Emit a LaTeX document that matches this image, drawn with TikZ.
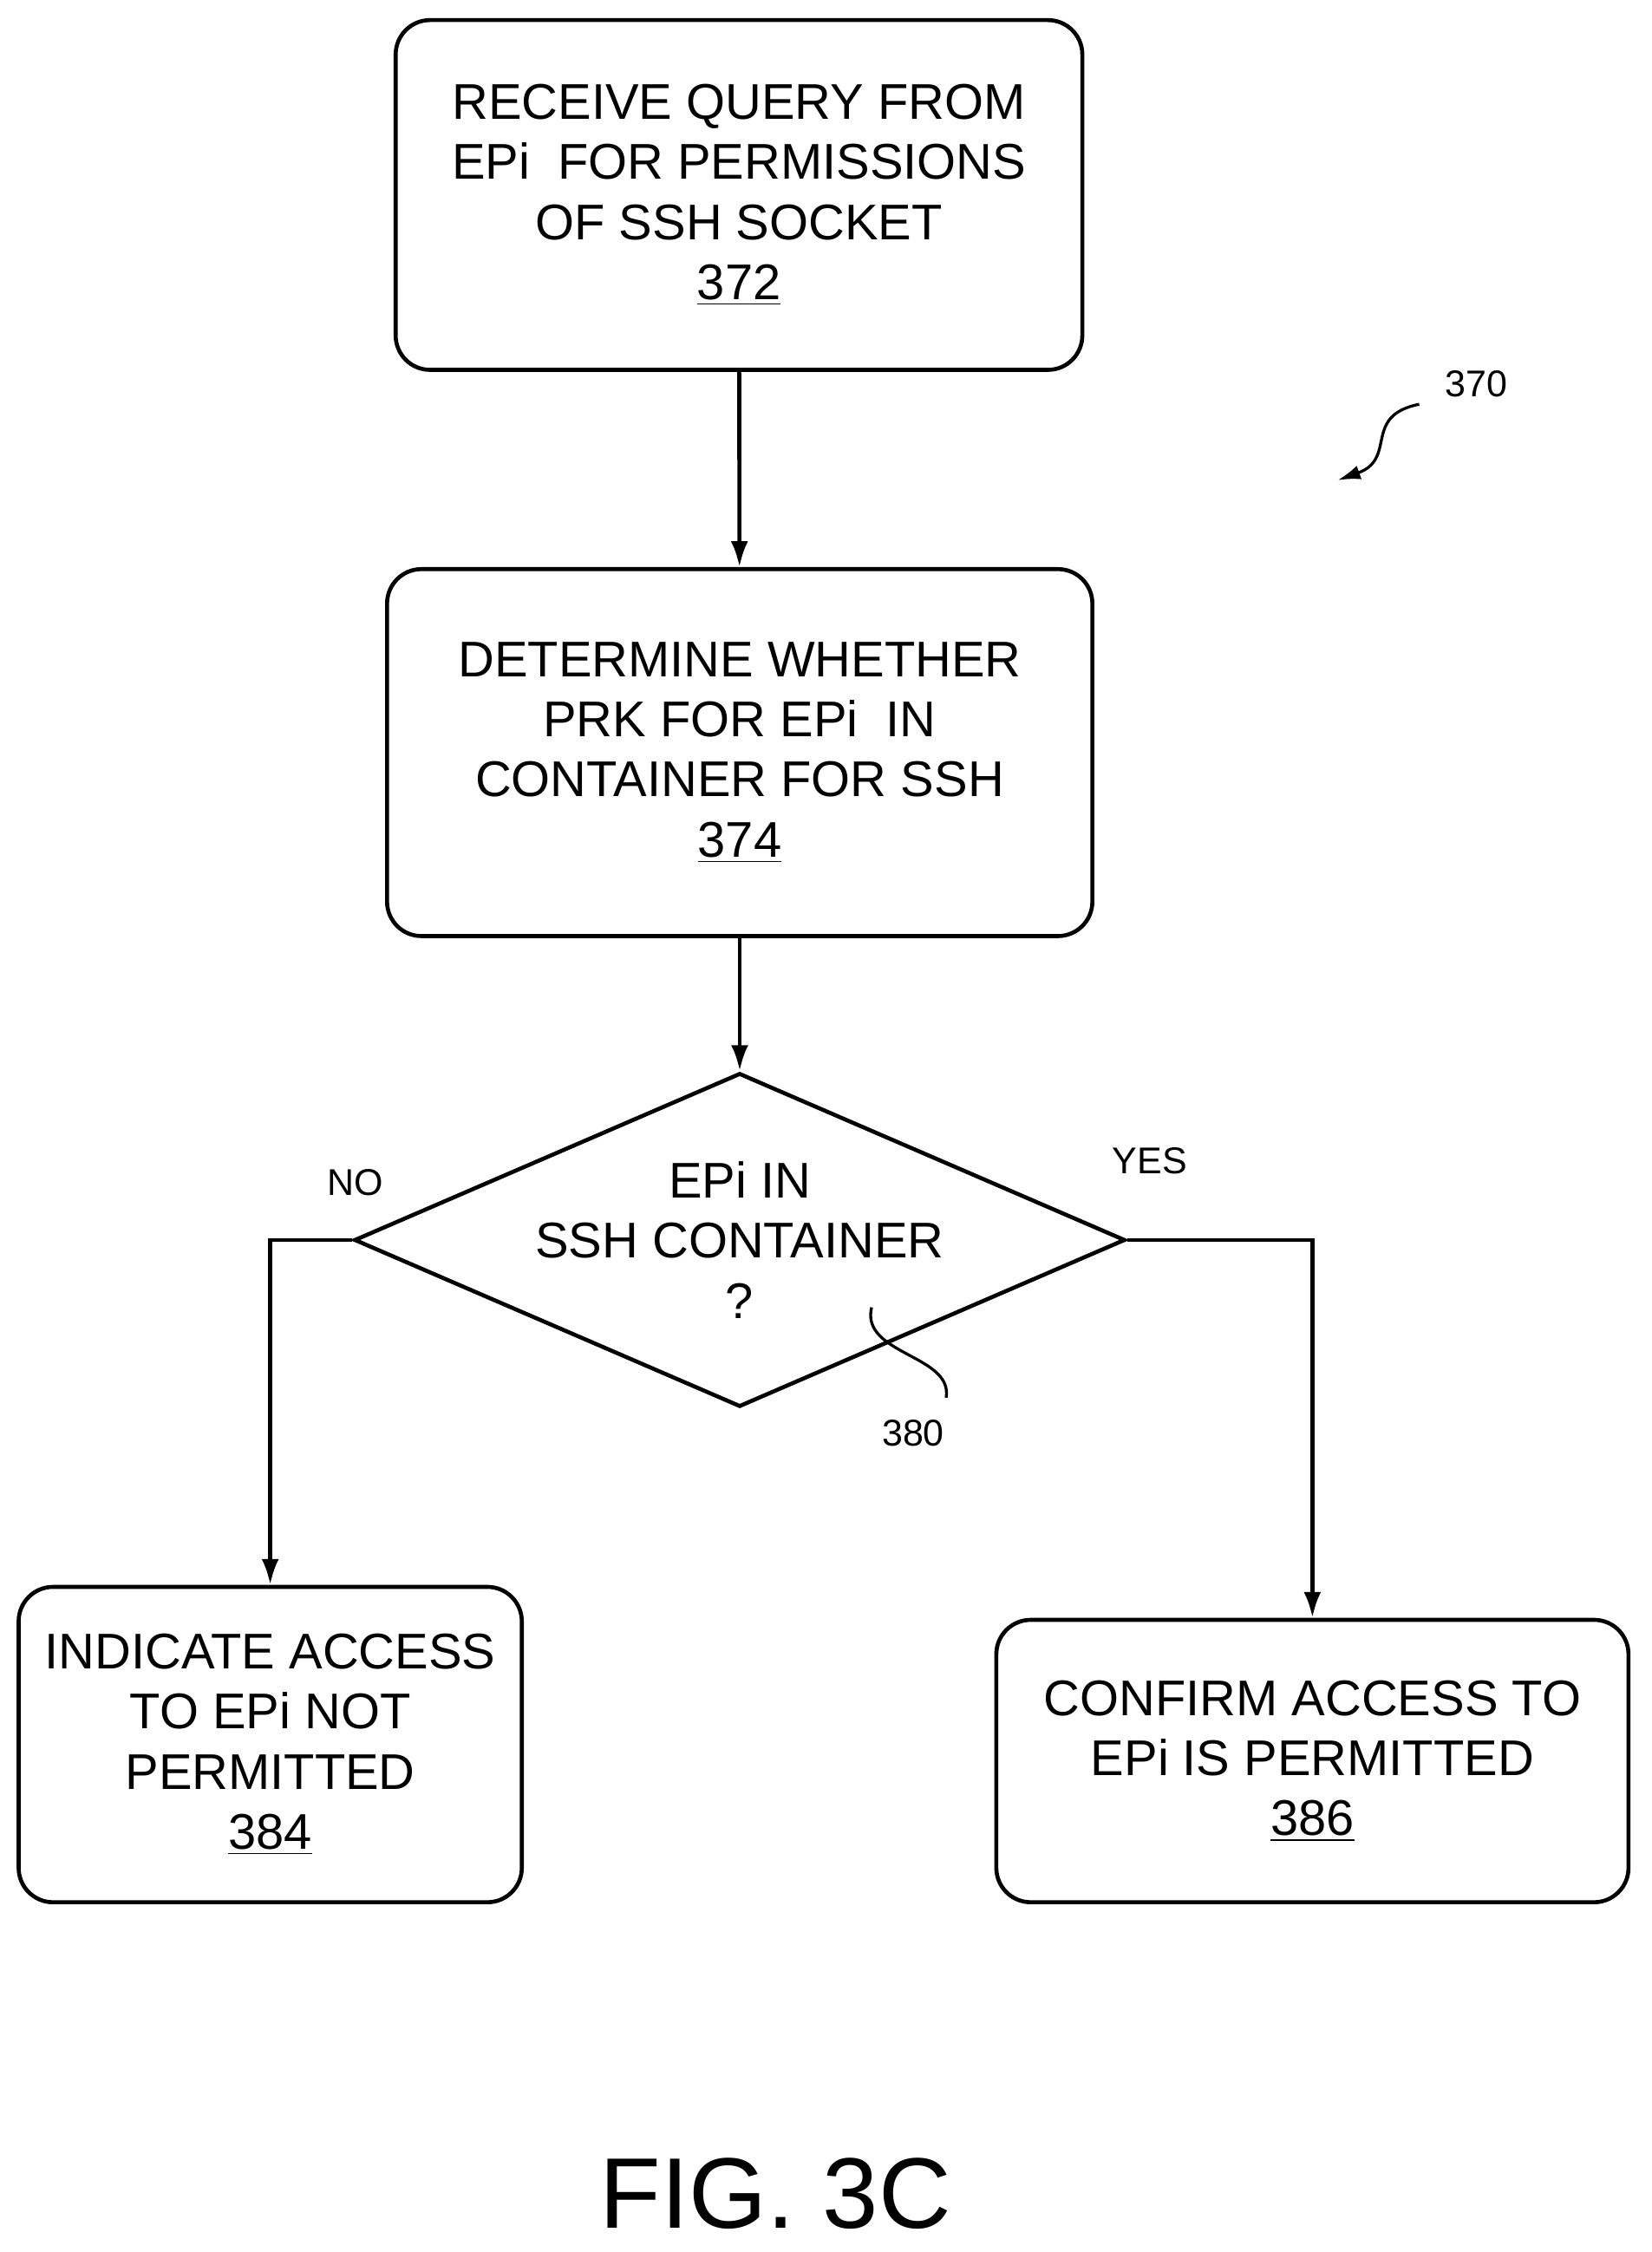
\documentclass[tikz,border=0pt]{standalone}
\usepackage{fontspec}
\setmainfont{Liberation Sans}
\usetikzlibrary{shapes.geometric,positioning}
\begin{document}
\begin{tikzpicture}[x=0.5pt,y=-0.5pt,
  box/.style={draw,line width=1.4pt,rounded corners=12pt,align=center,
    font=\fontsize{17.5}{21}\selectfont,inner sep=0pt},
  dec/.style={draw,diamond,line width=1.4pt,aspect=2.31,align=center,
    font=\fontsize{17.5}{21}\selectfont,inner sep=0pt},
  lbl/.style={font=\fontsize{13}{15}\selectfont},
  flow/.style={line width=1.4pt,-{Latex[length=9pt,width=6pt]}}]
  \usetikzlibrary{arrows.meta}
  \useasboundingbox (0,0) rectangle (1152,1571);

  % boxes
  \node[box,minimum width=239.5pt,minimum height=122pt] (query) at (515.5,136) {RECEIVE QUERY FROM\\EPi\ \ FOR PERMISSIONS\\OF SSH SOCKET\\\underline{372}};
  \node[box,minimum width=246pt,minimum height=128pt] (prk) at (516,525) {DETERMINE WHETHER\\PRK FOR EPi\ \ IN\\CONTAINER FOR SSH\\\underline{374}};
  \node[dec,minimum width=201pt,minimum height=87pt] (inssh) at (516,865) {EPi IN\\SSH CONTAINER\\?};
  \node[box,minimum width=175.5pt,minimum height=110pt] (deny) at (188.5,1217) {INDICATE ACCESS\\TO EPi NOT\\PERMITTED\\\underline{384}};
  \node[box,minimum width=220.5pt,minimum height=98.5pt] (allow) at (915.5,1228.5) {CONFIRM ACCESS TO\\EPi IS PERMITTED\\\underline{386}};

  % connectors
  \draw[flow] (query) -- (prk);
  \draw[flow] (prk) -- (inssh);
  \draw[flow] (inssh.west) -| (deny.north);
  \draw[flow] (inssh.east) -| (allow.north);

  \node[lbl] (no) at (248,825) {NO};
  \node[lbl] (yes) at (802,810) {YES};

  % reference numerals
  \node[lbl] (n370) at (1030,268) {370};
  \coordinate (t370) at (933,335);
  \draw[line width=1pt,-{Latex[length=8pt,width=5pt]}] (990,282) .. controls (950,290) and (975,320) .. (t370);
  \node[lbl] (n380) at (637,1000) {380};
  \draw[line width=1pt] (608,912) .. controls (600,945) and (665,945) .. (660,975);

  \node[font=\fontsize{35}{40}\selectfont] (fig) at (541,1530) {FIG. 3C};
\end{tikzpicture}
\end{document}
